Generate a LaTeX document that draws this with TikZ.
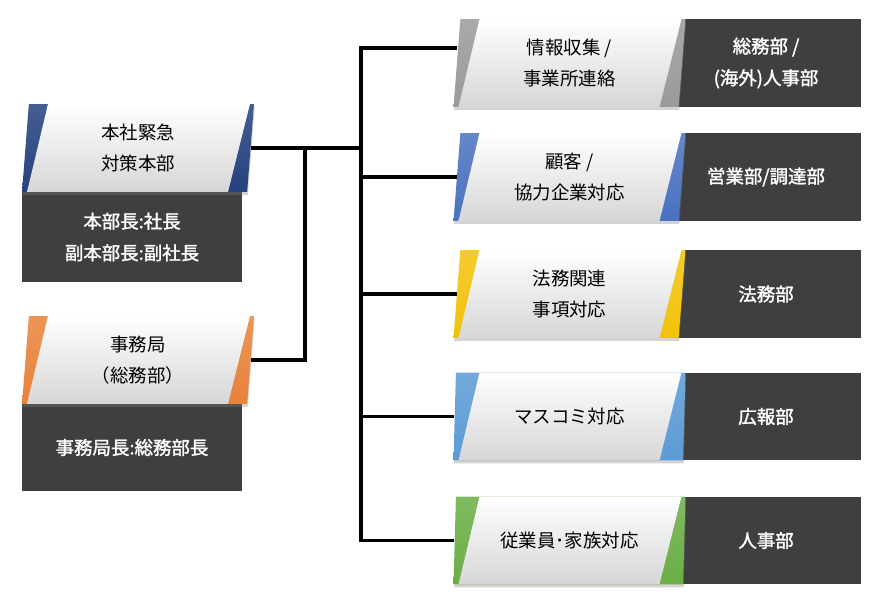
\documentclass[tikz,border=0pt]{standalone}
\usepackage{fontspec}
\newfontfamily\jp{Noto Sans CJK JP}
\newfontfamily\jpw{Noto Sans CJK JP}[FakeBold=1.6]
\usetikzlibrary{shapes.geometric, shadows, calc, positioning}

\definecolor{darkbox}{HTML}{3F3F3F}
\definecolor{navyacc}{HTML}{24427E}
\definecolor{orangeacc}{HTML}{E8823A}
\definecolor{grayacc}{HTML}{9A9A9A}
\definecolor{blueacc}{HTML}{4A72C0}
\definecolor{goldacc}{HTML}{F2C20A}
\definecolor{skyacc}{HTML}{5B9BD5}
\definecolor{greenacc}{HTML}{6AAE45}

\begin{document}
\begin{tikzpicture}[x=0.02cm, y=-0.02cm,
  card/.style={trapezium, trapezium left angle=82, trapezium right angle=98,
    trapezium stretches body, minimum width=4.64cm, minimum height=1.76cm,
    inner sep=0pt, align=center, font=\jp\fontsize{10.5}{18}\selectfont,
    shade, top color=#1!85!white, middle color=#1!55!black, bottom color=#1,
    drop shadow={shadow xshift=0.4pt, shadow yshift=-1.6pt, opacity=0.35},
    path picture={
      \shade[top color=white, bottom color=black!16]
        ($(path picture bounding box.north west)+(0.52cm,0)$)
        -- ($(path picture bounding box.north east)+(-0.08cm,0)$)
        -- ($(path picture bounding box.south east)+(-0.52cm,0)$)
        -- ($(path picture bounding box.south west)+(0.1cm,0)$) -- cycle;}},
  dbox/.style={fill=darkbox, text=white, minimum height=1.76cm,
    inner sep=0pt, align=center, font=\jpw\fontsize{10.5}{18}\selectfont},
  link/.style={line width=2.2pt, black},
]
\useasboundingbox (0,0) rectangle (880,602);

% ── Dark boxes: leaders and departments ──
\node[dbox, minimum width=4.4cm, minimum height=1.8cm] (hqhead) at (132,237)
  {本部長:社長\\副本部長:副社長};
\node[dbox, minimum width=4.4cm, minimum height=1.74cm] (sechead) at (132,447.5)
  {事務局長:総務部長};
\node[dbox, minimum width=3.8cm] (infodept) at (766,63) {総務部 /\\(海外)人事部};
\node[dbox, minimum width=3.8cm] (custdept) at (766,177) {営業部/調達部};
\node[dbox, minimum width=3.8cm] (legaldept) at (766,294) {法務部};
\node[dbox, minimum width=3.8cm] (mediadept) at (766,416.5) {広報部};
\node[dbox, minimum width=3.8cm] (staffdept) at (766,540.5) {人事部};

% ── Left cards ──
\node[card=navyacc] (hq) at (138,148) {本社緊急\\対策本部};
\node[card=orangeacc] (sec) at (138,360) {事務局\\（総務部）};

% ── Right cards ──
\node[card=grayacc] (info) at (569.5,63) {情報収集 /\\事業所連絡};
\node[card=blueacc] (cust) at (569.5,177) {顧客 /\\協力企業対応};
\node[card=goldacc] (legal) at (569.5,294) {法務関連\\事項対応};
\node[card=skyacc] (media) at (569.5,416.5) {マスコミ対応};
\node[card=greenacc] (staff) at (569.5,540.5) {従業員･家族対応};

% ── Connectors ──
\coordinate (trunk) at (361,48);
\coordinate (fork) at (305,148);
\draw[link] (info.west |- trunk) -- (trunk) -- (trunk |- staff.west) -- (staff.west);
\foreach \n in {cust, legal, media}
  \draw[link] (\n.west) -- (\n.west -| trunk);
\draw[link] (hq.east) -- (hq.east -| trunk);
\draw[link] (sec.east) -| (fork);
\end{tikzpicture}
\end{document}
